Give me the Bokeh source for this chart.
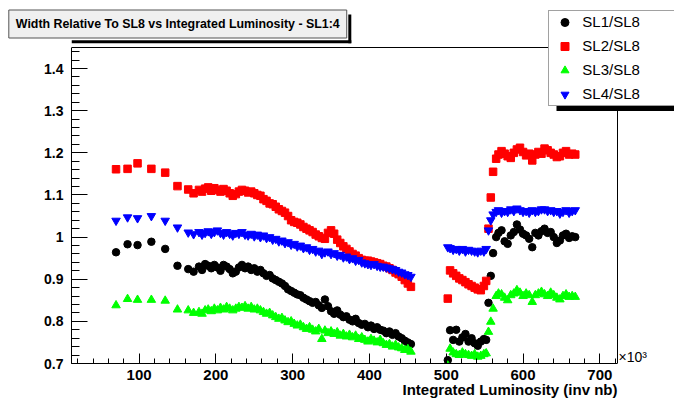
from bokeh.plotting import figure
from bokeh.models import (Range1d, FixedTicker, Label, BoxAnnotation, Legend,
                          LegendItem, Title)
from bokeh.embed import file_html
from bokeh.resources import INLINE

# ---------------- data (integrated luminosity in units of 10^3 inv nb) ----------------
lumi = [70, 85, 98, 116, 134, 150, 164, 171,
        178, 182, 186, 190, 194, 198, 202, 206, 210, 214,
        218, 222, 226, 230, 234, 238, 242, 246, 250, 254,
        258, 262, 266, 270, 274, 278, 282, 286, 290, 294,
        298, 302, 306, 310, 314, 318, 322, 326, 330, 334,
        338, 342, 346, 350, 354, 358, 362, 366, 370, 374,
        378, 382, 386, 390, 394, 398, 402, 406, 410, 414,
        418, 422, 426, 430, 434, 438, 442, 446, 450, 454,
        502, 505, 509, 513, 517, 521, 525, 529, 533, 537, 541, 545, 549, 552,
        555, 558, 561, 565,
        568, 572, 576, 580, 584, 588, 592, 596, 600, 604,
        608, 612, 616, 620, 624, 628, 632, 636, 640, 644,
        648, 652, 656, 660, 664, 668]

sl1_sl8 = [0.964, 0.983, 0.981, 0.989, 0.972, 0.932, 0.924, 0.918,
           0.930, 0.922, 0.936, 0.932, 0.926, 0.934, 0.928, 0.920, 0.934, 0.930,
           0.924, 0.914, 0.918, 0.928, 0.934, 0.926, 0.930, 0.922, 0.926, 0.918,
           0.922, 0.914, 0.908, 0.910, 0.902, 0.898, 0.894, 0.890, 0.884, 0.876,
           0.872, 0.868, 0.864, 0.862, 0.856, 0.852, 0.848, 0.844, 0.846, 0.838,
           0.832, 0.852, 0.836, 0.824, 0.818, 0.826, 0.816, 0.810, 0.812, 0.804,
           0.800, 0.806, 0.796, 0.792, 0.794, 0.786, 0.790, 0.782, 0.786, 0.780,
           0.778, 0.772, 0.776, 0.768, 0.772, 0.764, 0.760, 0.754, 0.750, 0.746,
           0.708, 0.779, 0.756, 0.780, 0.752, 0.762, 0.770, 0.752, 0.760, 0.748, 0.742, 0.752, 0.758, 0.756,
           0.844, 0.908, 0.962, 1.000,
           1.010, 1.016, 0.990, 0.984, 1.004, 1.012, 1.030, 1.018, 1.008, 1.004,
           0.996, 0.976, 1.010, 1.004, 1.014, 1.020, 1.010, 1.012, 1.000, 0.986,
           0.992, 1.004, 1.008, 0.998, 1.002, 1.000]

sl2_sl8 = [1.161, 1.162, 1.175, 1.162, 1.153, 1.121, 1.113, 1.104,
           1.112, 1.108, 1.115, 1.118, 1.110, 1.116, 1.112, 1.108, 1.114, 1.110,
           1.104, 1.098, 1.102, 1.108, 1.112, 1.110, 1.106, 1.108, 1.104, 1.100,
           1.098, 1.090, 1.086, 1.080, 1.078, 1.072, 1.066, 1.062, 1.058, 1.050,
           1.040, 1.036, 1.034, 1.030, 1.024, 1.020, 1.016, 1.012, 1.006, 1.002,
           0.998, 0.996, 1.010, 1.016, 1.008, 0.994, 0.986, 0.978, 0.972, 0.966,
           0.960, 0.956, 0.950, 0.946, 0.944, 0.944, 0.942, 0.940, 0.938, 0.936,
           0.932, 0.930, 0.926, 0.922, 0.916, 0.912, 0.906, 0.898, 0.890, 0.882,
           0.854, 0.921, 0.914, 0.908, 0.902, 0.898, 0.893, 0.888, 0.884, 0.880, 0.876, 0.874, 0.884, 0.896,
           1.020, 1.094, 1.155, 1.186,
           1.196, 1.204, 1.198, 1.192, 1.188, 1.200, 1.208, 1.212, 1.202, 1.194,
           1.198, 1.182, 1.196, 1.202, 1.198, 1.210, 1.206, 1.200, 1.196, 1.190,
           1.192, 1.200, 1.204, 1.196, 1.198, 1.196]

sl3_sl8 = [0.838, 0.853, 0.851, 0.851, 0.849, 0.828, 0.826, 0.820,
           0.822, 0.818, 0.826, 0.828, 0.824, 0.830, 0.826, 0.832, 0.828, 0.834,
           0.830, 0.826, 0.830, 0.834, 0.832, 0.836, 0.830, 0.834, 0.828, 0.830,
           0.826, 0.822, 0.818, 0.820, 0.814, 0.810, 0.806, 0.808, 0.802, 0.798,
           0.800, 0.794, 0.790, 0.792, 0.786, 0.782, 0.786, 0.780, 0.776, 0.782,
           0.758, 0.778, 0.772, 0.776, 0.770, 0.774, 0.766, 0.770, 0.764, 0.768,
           0.762, 0.766, 0.758, 0.762, 0.756, 0.752, 0.758, 0.754, 0.750, 0.756,
           0.748, 0.744, 0.746, 0.740, 0.744, 0.738, 0.736, 0.732, 0.734, 0.728,
           0.695, 0.735, 0.726, 0.722, 0.720, 0.726, 0.722, 0.720, 0.718, 0.722, 0.716, 0.718, 0.722, 0.724,
           0.775, 0.799, 0.830, 0.860,
           0.866, 0.864, 0.856, 0.850, 0.862, 0.866, 0.874, 0.868, 0.860, 0.866,
           0.862, 0.846, 0.862, 0.866, 0.870, 0.864, 0.860, 0.868, 0.862, 0.856,
           0.852, 0.860, 0.864, 0.858, 0.860, 0.858]

sl4_sl8 = [1.039, 1.047, 1.045, 1.050, 1.039, 1.023, 1.011, 1.007,
           1.012, 1.006, 1.010, 1.014, 1.008, 1.012, 1.016, 1.010, 1.006, 1.012,
           1.008, 1.004, 1.010, 1.008, 1.012, 1.006, 1.004, 1.008, 1.002, 1.006,
           1.000, 1.004, 0.998, 1.000, 0.994, 0.996, 0.990, 0.992, 0.986, 0.988,
           0.982, 0.984, 0.978, 0.980, 0.974, 0.976, 0.970, 0.972, 0.966, 0.968,
           0.960, 0.964, 0.966, 0.960, 0.962, 0.956, 0.958, 0.952, 0.954, 0.948,
           0.950, 0.944, 0.946, 0.940, 0.938, 0.936, 0.934, 0.936, 0.932, 0.930,
           0.930, 0.928, 0.926, 0.924, 0.922, 0.918, 0.916, 0.912, 0.910, 0.906,
           0.976, 0.974, 0.970, 0.972, 0.968, 0.972, 0.966, 0.970, 0.968, 0.966, 0.964, 0.968, 0.966, 0.972,
           1.016, 1.040, 1.054, 1.060,
           1.064, 1.058, 1.062, 1.060, 1.066, 1.062, 1.068, 1.064, 1.060, 1.062,
           1.058, 1.064, 1.060, 1.062, 1.066, 1.066, 1.062, 1.064, 1.060, 1.062,
           1.056, 1.060, 1.064, 1.058, 1.062, 1.064]

series_labels = ["SL1/SL8", "SL2/SL8", "SL3/SL8", "SL4/SL8"]

x_ticks = [100, 200, 300, 400, 500, 600, 700]
x_tick_labels = ["100", "200", "300", "400", "500", "600", "700"]
y_ticks = [0.7, 0.8, 0.9, 1.0, 1.1, 1.2, 1.3, 1.4]
y_tick_labels = ["0.7", "0.8", "0.9", "1", "1.1", "1.2", "1.3", "1.4"]

title_text = "Width Relative To SL8 vs Integrated Luminosity - SL1:4"
x_title = "Integrated Luminosity (inv nb)"
x_mult = "\u00d710\u00b3"

# axis extents (data units)
x_lo, x_hi = 12, 723
y_lo, y_hi = 0.7, 1.45

# ---------------- figure ----------------
FONT = "Liberation Sans"
W, H = 674, 401
FL, FR, FT, FB = 71, 617, 47, 363      # visible axes box in canvas px
TOP = 10                               # top of the (extended) drawing frame
# the drawing frame is extended up and to the right so that the legend,
# which overlaps the axes box border, is not clipped
px_x = (FR - FL) / (x_hi - x_lo)
px_y = (FB - FT) / (y_hi - y_lo)
p = figure(width=W, height=H, output_backend="svg", toolbar_location=None,
           x_range=Range1d(x_lo, x_hi + (W - FR) / px_x),
           y_range=Range1d(y_lo, y_hi + (FT - TOP) / px_y),
           min_border_left=FL, min_border_right=0,
           min_border_top=TOP, min_border_bottom=H - FB)
p.title.visible = False
p.xgrid.visible = False
p.ygrid.visible = False
p.background_fill_color = "white"
p.border_fill_color = "white"
p.outline_line_color = None

x_minor = [20 * k for k in range(1, 37)]
y_minor = [round(0.7 + 0.02 * k, 2) for k in range(0, 38)]

xa = p.xaxis[0]
ya = p.yaxis[0]
xa.bounds = (x_lo, x_hi)
ya.bounds = (y_lo, y_hi)
xa.ticker = FixedTicker(ticks=x_ticks, minor_ticks=x_minor)
ya.ticker = FixedTicker(ticks=y_ticks, minor_ticks=y_minor)
xa.major_label_overrides = dict(zip(x_ticks, x_tick_labels))
ya.major_label_overrides = dict(zip(y_ticks, y_tick_labels))

for ax in (xa, ya):
    ax.axis_line_color = "black"
    ax.major_tick_line_color = "black"
    ax.minor_tick_line_color = "black"
    ax.major_tick_out = 0
    ax.minor_tick_out = 0
    ax.major_label_text_font = FONT
    ax.major_label_text_font_style = "bold"
    ax.major_label_text_color = "black"
xa.major_tick_in = 10
xa.minor_tick_in = 5
xa.major_label_text_font_size = "15px"
xa.major_label_standoff = 6
ya.major_tick_in = 16
ya.minor_tick_in = 8
ya.major_label_text_font_size = "14px"
ya.major_label_standoff = 8

# top and right edges of the axes box
p.segment(x0=[x_lo, x_hi], y0=[y_hi, y_lo], x1=[x_hi, x_hi], y1=[y_hi, y_hi],
          line_color="black", line_width=1)

r1 = p.scatter(lumi, sl1_sl8, marker="circle", size=7.5, color="black")
r2 = p.scatter(lumi, sl2_sl8, marker="square", size=7.5, color="#ff0000")
r3 = p.scatter(lumi, sl3_sl8, marker="triangle", size=8.5, color="#00ff00")
r4 = p.scatter(lumi, sl4_sl8, marker="inverted_triangle", size=8.5, color="#0000ff")


def sbox(l, r, t, b, **kw):
    # box given in canvas px, converted to frame-relative screen units
    return BoxAnnotation(left=l - FL, right=r - FL, top=FB - t, bottom=FB - b,
                         left_units="screen", right_units="screen",
                         top_units="screen", bottom_units="screen", **kw)


# x axis title (bottom panel, right aligned to the axes box)
p.add_layout(Title(text=x_title, align="right", offset=W - FR, vertical_align="top",
                   standoff=-3, text_font=FONT, text_font_style="bold",
                   text_font_size="15px", text_color="black"), "below")

# title box: a title kept in the bottom panel (so it is never clipped and
# takes no room), lifted to the top of the canvas with a negative standoff
p.add_layout(Title(text=title_text, align="left", offset=8.3 - FL,
                   vertical_align="top", standoff=-777, padding=7,
                   text_font=FONT, text_font_style="bold", text_font_size="12.4px",
                   text_color="black", background_fill_color="#f0f0f0",
                   border_line_color="#555555", border_line_width=1), "below")
# title box shadow
p.add_layout(sbox(FL, 350.8, 39.8, 42.8, fill_color="black", fill_alpha=1, line_color=None))
p.add_layout(sbox(347.8, 350.8, 14, 42.8, fill_color="black", fill_alpha=1, line_color=None))

# x10^3 multiplier next to the axis end
p.add_layout(Label(x=FR - FL + 1, y=7, x_units="screen", y_units="screen", text=x_mult,
                   text_font=FONT, text_font_size="14px", text_color="black",
                   text_baseline="middle"))

# legend shadow and legend
p.add_layout(sbox(556, W, 105.5, 110.5, fill_color="black", fill_alpha=1, line_color=None))
legend = Legend(items=[LegendItem(label=series_labels[0], renderers=[r1]),
                       LegendItem(label=series_labels[1], renderers=[r2]),
                       LegendItem(label=series_labels[2], renderers=[r3]),
                       LegendItem(label=series_labels[3], renderers=[r4])],
                location=(548.3 - FL, FB - 105.5), orientation="vertical",
                glyph_width=29, glyph_height=20, label_height=20, label_width=95,
                label_standoff=3, spacing=4, padding=1, margin=0,
                label_text_font=FONT, label_text_font_size="15px",
                label_text_color="black",
                border_line_color="#444444", border_line_width=1,
                background_fill_color="white", background_fill_alpha=1)
p.add_layout(legend)

open("out.html", "w").write(file_html(p, INLINE))
